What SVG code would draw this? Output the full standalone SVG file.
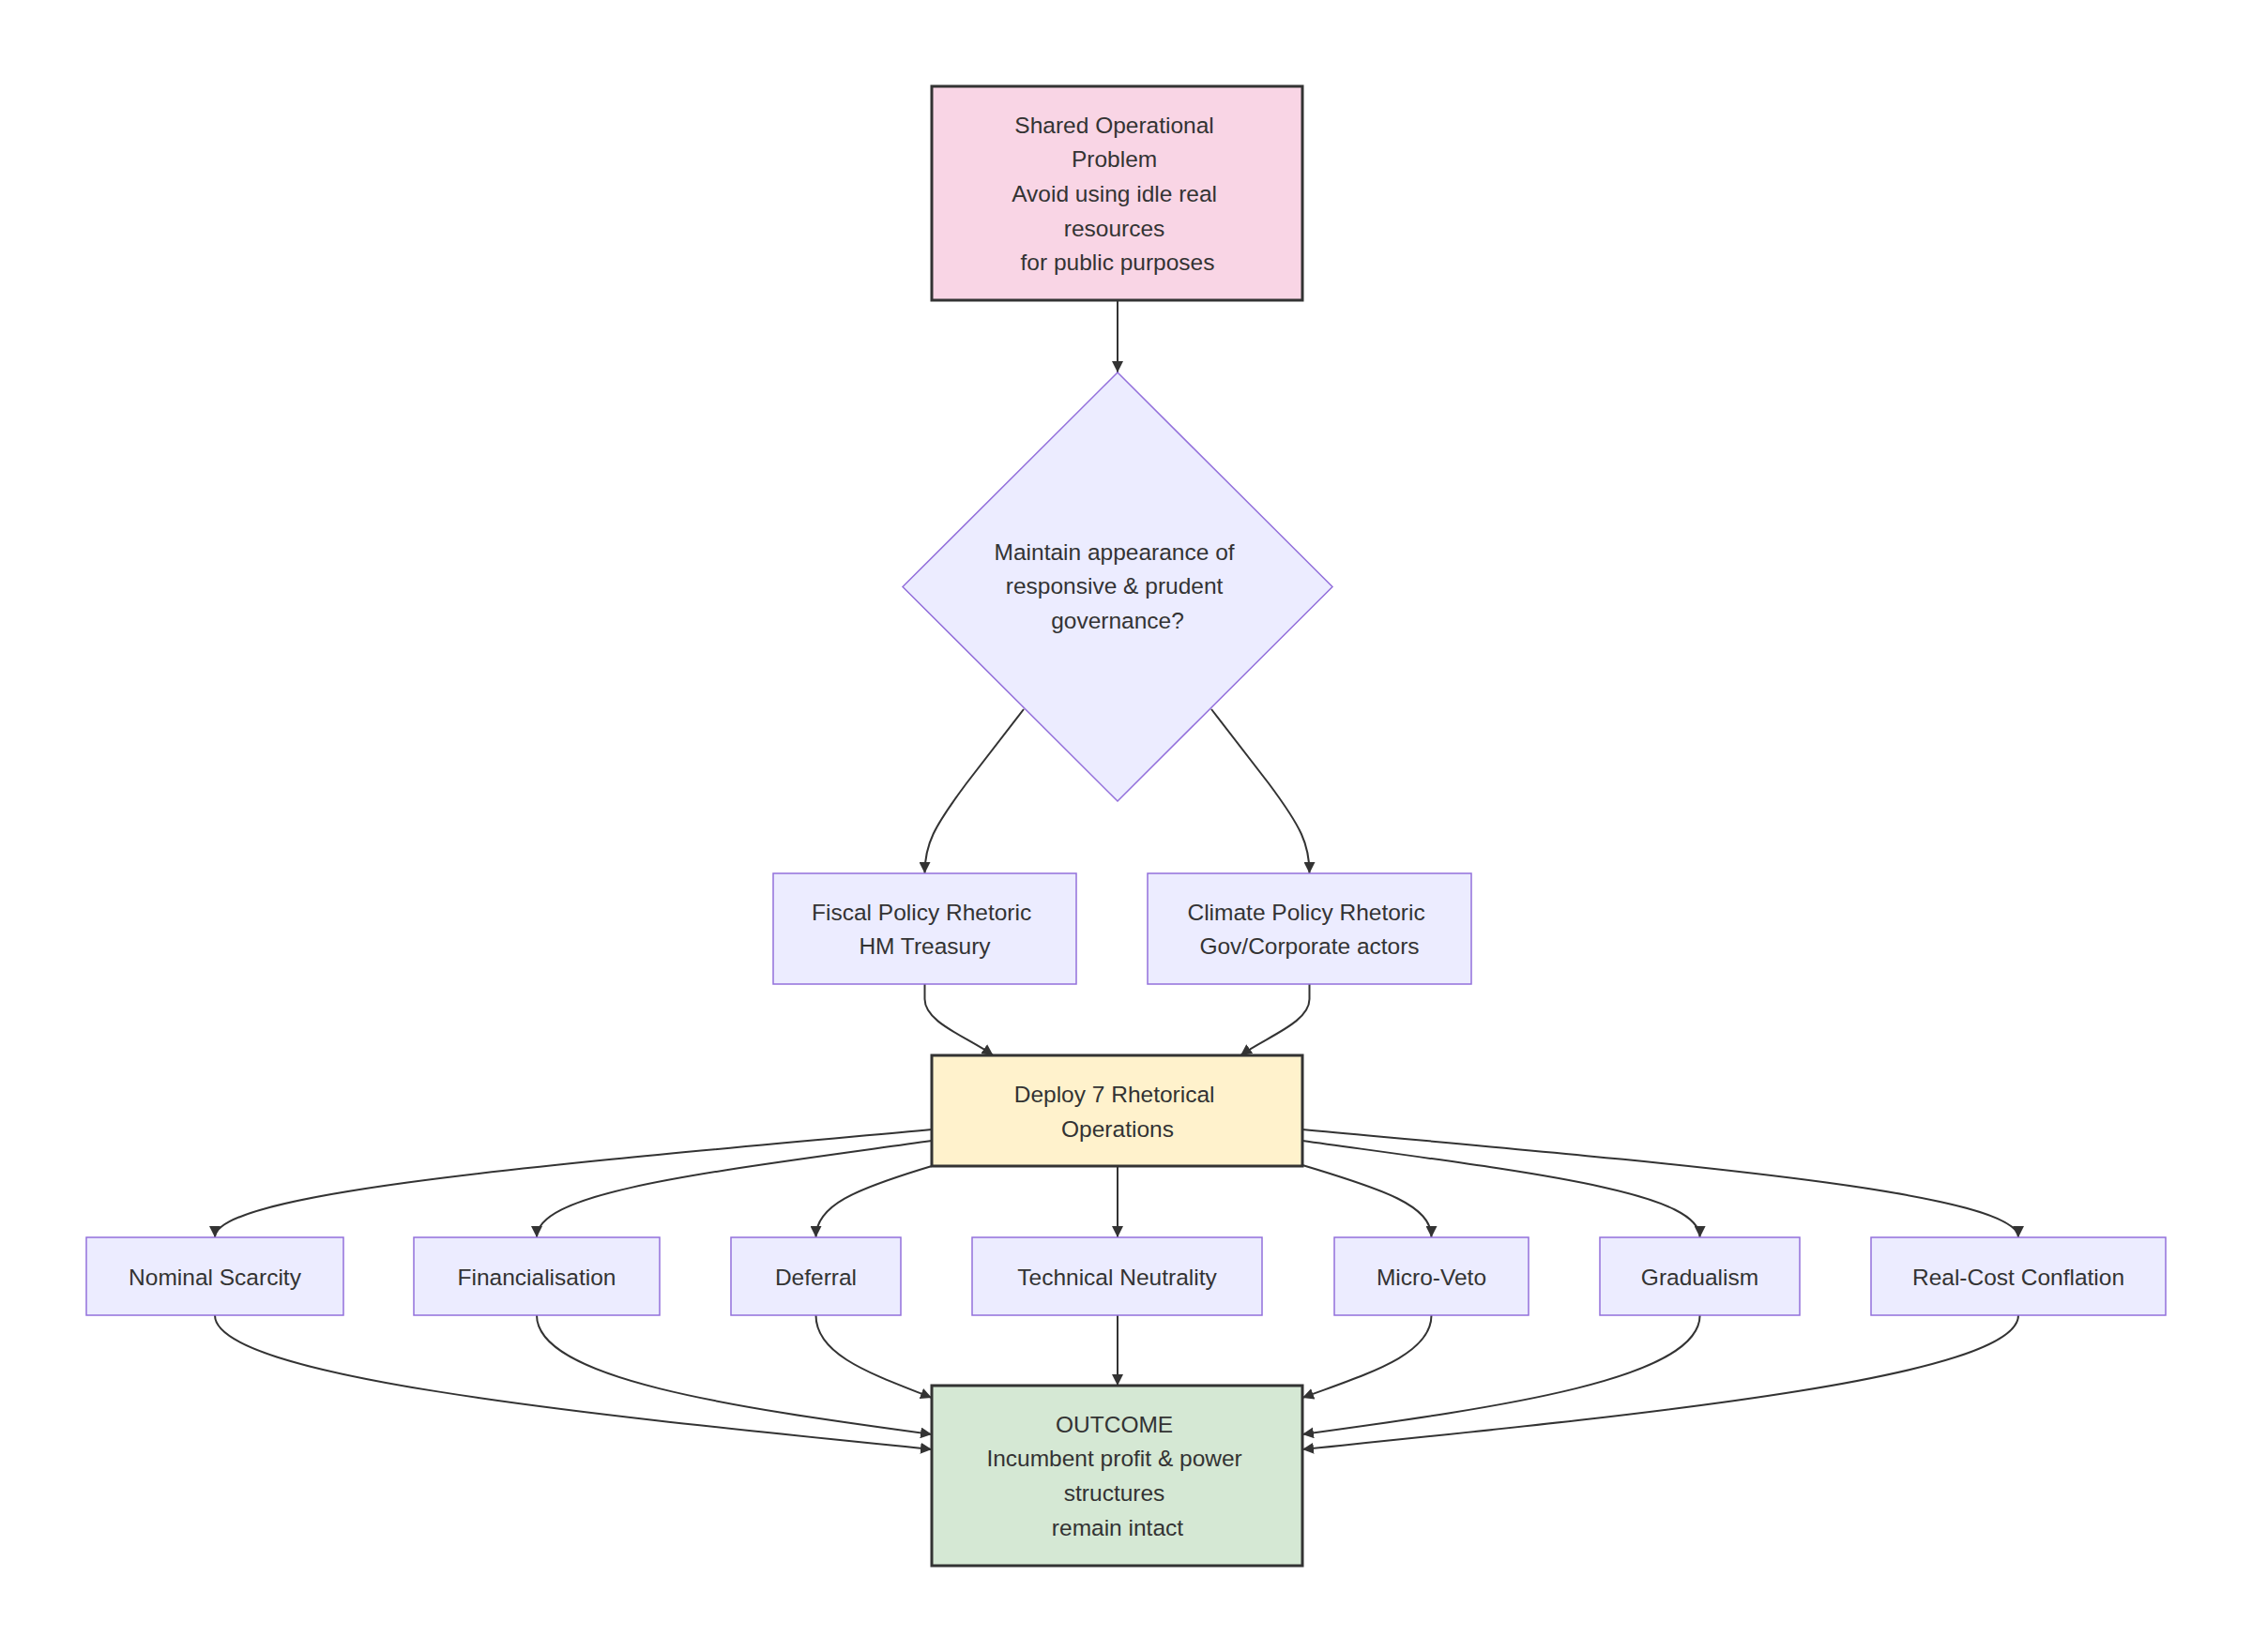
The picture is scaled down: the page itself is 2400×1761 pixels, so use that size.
<svg xmlns="http://www.w3.org/2000/svg" width="2400" height="1761" viewBox="0 0 2400 1761">
<style>
  .bg { fill: #ffffff; }
  .node { fill: #ECECFF; stroke: #9370DB; stroke-width: 1.5; }
  .pink { fill: #F9D5E5; stroke: #333333; stroke-width: 3; }
  .yellow { fill: #FFF2CC; stroke: #333333; stroke-width: 3; }
  .green { fill: #D5E8D4; stroke: #333333; stroke-width: 3; }
  .lbl { font-family: "Liberation Sans", Arial, sans-serif; font-size: 24.5px; fill: #333333; text-anchor: middle; }
  .edge { fill: none; stroke: #333333; stroke-width: 2; marker-end: url(#arrow); }
</style>
<defs>
  <marker id="arrow" viewBox="0 0 10 10" refX="10" refY="5" markerUnits="userSpaceOnUse" markerWidth="12" markerHeight="12" orient="auto" preserveAspectRatio="none">
    <path d="M0,0 L10,5 L0,10 z" fill="#333333"/>
  </marker>
</defs>
<rect class="bg" x="0" y="0" width="2400" height="1761"/>

<g id="connectors">
  <path class="edge" d="M1191,320 L1191,397"/>
  <path class="edge" d="M1091,756 L1030,835 C995,882 985.5,900 985.5,931"/>
  <path class="edge" d="M1291,756 L1352,835 C1387,882 1395.5,900 1395.5,931"/>
  <path class="edge" d="M985.5,1049 L985.5,1065 C985.5,1090 1030,1105 1058.5,1125"/>
  <path class="edge" d="M1395.5,1049 L1395.5,1065 C1395.5,1090 1350,1105 1322,1125"/>
  <path class="edge" d="M993,1204 C600,1240 229,1270 229,1319"/>
  <path class="edge" d="M993,1216 C750,1250 572,1270 572,1319"/>
  <path class="edge" d="M993,1243 C910,1268 869.5,1285 869.5,1319"/>
  <path class="edge" d="M1191,1243 L1191,1319"/>
  <path class="edge" d="M1388,1242 C1475,1268 1525.5,1285 1525.5,1319"/>
  <path class="edge" d="M1388,1216 C1632,1250 1811.6,1270 1811.6,1319"/>
  <path class="edge" d="M1388,1204 C1780,1240 2151,1270 2151,1319"/>
  <path class="edge" d="M229,1402 C229,1470 650,1510 993,1545"/>
  <path class="edge" d="M572,1402 C572,1470 780,1500 993,1529"/>
  <path class="edge" d="M869.5,1402 C869.5,1445 930,1465 993,1490"/>
  <path class="edge" d="M1191,1402 L1191,1477"/>
  <path class="edge" d="M1525.5,1402 C1525.5,1445 1455,1465 1388,1490"/>
  <path class="edge" d="M1811.6,1402 C1811.6,1470 1600,1500 1388,1529"/>
  <path class="edge" d="M2151,1402 C2151,1470 1730,1510 1388,1545"/>
</g>

<g id="problem">
  <rect class="pink" x="993" y="92" width="395" height="228"/>
  <text class="lbl">
    <tspan x="1191" y="141.7">Shared Operational</tspan>
    <tspan x="1191" y="178.3">Problem</tspan>
    <tspan x="1191" y="215">Avoid using idle real</tspan>
    <tspan x="1191" y="251.7">resources</tspan>
    <tspan x="1191" y="288.3">for public purposes</tspan>
  </text>
</g>

<g id="decision">
  <polygon class="node" points="1191,397 1420,625.5 1191,854 962,625.5"/>
  <text class="lbl">
    <tspan x="1191" y="596.7">Maintain appearance of</tspan>
    <tspan x="1191" y="633.3">responsive &amp; prudent</tspan>
    <tspan x="1191" y="670">governance?</tspan>
  </text>
</g>

<g id="fiscal">
  <rect class="node" x="824" y="931" width="323" height="118"/>
  <text class="lbl">
    <tspan x="985.5" y="980.7">Fiscal Policy Rhetoric</tspan>
    <tspan x="985.5" y="1017.3">HM Treasury</tspan>
  </text>
</g>

<g id="climate">
  <rect class="node" x="1223" y="931" width="345" height="118"/>
  <text class="lbl">
    <tspan x="1395.5" y="980.7">Climate Policy Rhetoric</tspan>
    <tspan x="1395.5" y="1017.3">Gov/Corporate actors</tspan>
  </text>
</g>

<g id="deploy">
  <rect class="yellow" x="993" y="1125" width="395" height="118"/>
  <text class="lbl">
    <tspan x="1191" y="1175">Deploy 7 Rhetorical</tspan>
    <tspan x="1191" y="1211.7">Operations</tspan>
  </text>
</g>

<g id="nominal">
  <rect class="node" x="92" y="1319" width="274" height="83"/>
  <text class="lbl" x="229" y="1369.5">Nominal Scarcity</text>
</g>
<g id="financialisation">
  <rect class="node" x="441" y="1319" width="262" height="83"/>
  <text class="lbl" x="572" y="1369.5">Financialisation</text>
</g>
<g id="deferral">
  <rect class="node" x="779" y="1319" width="181" height="83"/>
  <text class="lbl" x="869.5" y="1369.5">Deferral</text>
</g>
<g id="technical">
  <rect class="node" x="1036" y="1319" width="309" height="83"/>
  <text class="lbl" x="1190.5" y="1369.5">Technical Neutrality</text>
</g>
<g id="microveto">
  <rect class="node" x="1422" y="1319" width="207" height="83"/>
  <text class="lbl" x="1525.5" y="1369.5">Micro-Veto</text>
</g>
<g id="gradualism">
  <rect class="node" x="1705" y="1319" width="213" height="83"/>
  <text class="lbl" x="1811.5" y="1369.5">Gradualism</text>
</g>
<g id="realcost">
  <rect class="node" x="1994" y="1319" width="314" height="83"/>
  <text class="lbl" x="2151" y="1369.5">Real-Cost Conflation</text>
</g>

<g id="outcome">
  <rect class="green" x="993" y="1477" width="395" height="192"/>
  <text class="lbl">
    <tspan x="1191" y="1526.7">OUTCOME</tspan>
    <tspan x="1191" y="1563.3">Incumbent profit &amp; power</tspan>
    <tspan x="1191" y="1600">structures</tspan>
    <tspan x="1191" y="1636.7">remain intact</tspan>
  </text>
</g>
</svg>
